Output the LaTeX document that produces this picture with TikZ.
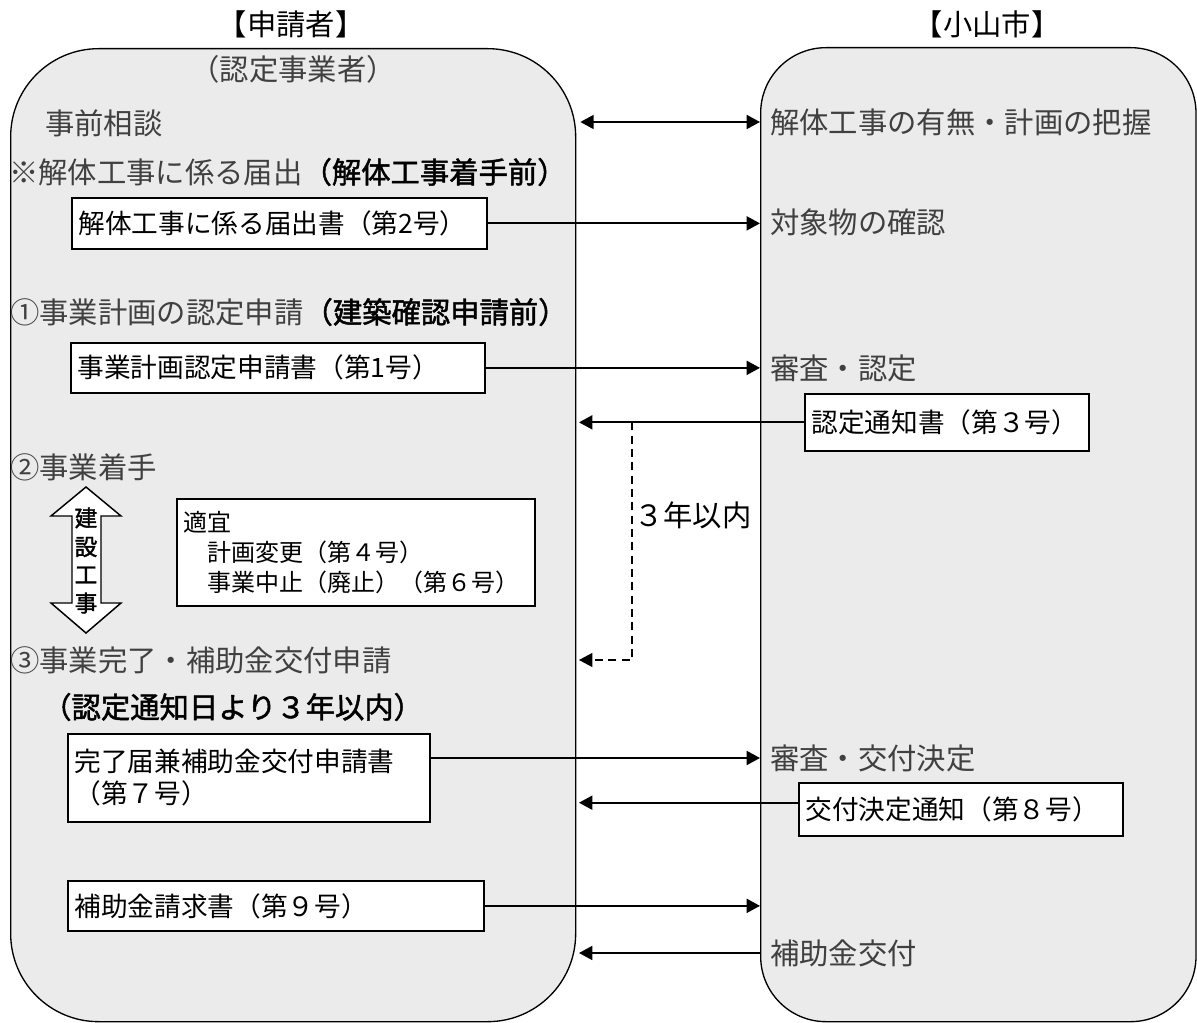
\documentclass[tikz,border=0pt]{standalone}
\usepackage{fontspec}
\setmainfont{Noto Sans CJK JP}
\newfontfamily\bfjp[FakeBold=1.6]{Noto Sans CJK JP}
\usetikzlibrary{arrows.meta}
\definecolor{panelfill}{RGB}{235,235,235}
\definecolor{txtgray}{RGB}{64,64,64}
\newcommand\fmain{\fontsize{22pt}{26pt}\selectfont}
\newcommand\fdoc{\fontsize{20pt}{24pt}\selectfont}
\newcommand\fsmall{\fontsize{18pt}{22.5pt}\selectfont}
\newcommand\fvert{\fontsize{17pt}{20pt}\selectfont}
\begin{document}
\begin{tikzpicture}[x=0.75pt,y=-0.75pt,
  panel/.style={draw=black, line width=1pt, fill=panelfill, rounded corners=#1, anchor=north west, inner sep=0pt},
  title/.style={inner sep=0pt, font=\fmain, text=black},
  lt/.style={anchor=west, inner sep=0pt, font=\fmain, text=txtgray},
  doc/.style={draw=black, fill=white, line width=1.3pt, anchor=north west, inner xsep=5pt, inner ysep=0pt, align=left, font=\fdoc, text=black},
  arr/.style={line width=1.3pt, -{Triangle[length=10pt,width=10.5pt]}},
  arrtwo/.style={line width=1.3pt, {Triangle[length=10pt,width=10.5pt]}-{Triangle[length=10pt,width=10.5pt]}},
  dsh/.style={line width=0.9pt, dash pattern=on 6pt off 4pt, -{Triangle[length=10pt,width=10.5pt]}},
  vch/.style={inner sep=0pt, font=\fvert\bfjp, text=black}
]
\useasboundingbox (0,0) rectangle (1197,1023);

% panels
\node[panel=66pt, minimum width=423.75pt, minimum height=729.75pt] (lp) at (10,48) {};
\node[panel=49pt, minimum width=326.5pt, minimum height=730.5pt] (rp) at (760,47) {};

% titles
\node[title] (t1) at (291,24) {【申請者】};
\node[title] (t2) at (987,24) {【小山市】};

% left column
\node[lt, anchor=center] (nintei) at (293,69) {（認定事業者）};
\node[lt] (soudan) at (45,123) {事前相談};
\node[lt] (kaitai) at (9,172) {※解体工事に係る届出{\bfjp\color{black}（解体工事着手前）}};
\node[doc, minimum width=311.25pt, minimum height=38.25pt, text width=301.25pt] (box2) at (71,197) {解体工事に係る届出書（第2号）};
\node[lt] (step1) at (10,312) {①事業計画の認定申請{\bfjp\color{black}（建築確認申請前）}};
\node[doc, minimum width=310.5pt, minimum height=37.5pt, text width=300.5pt] (box1) at (70,342) {事業計画認定申請書（第1号）};
\node[lt] (step2) at (10,467) {②事業着手};

% construction double arrow
\draw[line width=1.1pt, fill=white] (86,487) -- (121,516) -- (101,516) -- (101,603) -- (121,603) -- (86,633) -- (51,603) -- (72,603) -- (72,516) -- (51,516) -- cycle;
\node[vch] (k1) at (86,518) {建};
\node[vch] (k2) at (86,547) {設};
\node[vch] (k3) at (86,575) {工};
\node[vch] (k4) at (86,603) {事};

\node[doc, font=\fsmall, minimum width=268.5pt, minimum height=80.25pt, text width=258.5pt] (box46) at (176,498) {適宜\\　計画変更（第４号）\\　事業中止（廃止）（第６号）};
\node[lt] (step3) at (10,660) {③事業完了・補助金交付申請};
\node[anchor=west, inner sep=0pt, font=\fmain\bfjp, text=black] (limit) at (42,707) {（認定通知日より３年以内）};
\node[doc, minimum width=271.5pt, minimum height=66pt, text width=261.5pt] (box7) at (67,733) {完了届兼補助金交付申請書\\（第７号）};
\node[doc, minimum width=312pt, minimum height=37.5pt, text width=302pt] (box9) at (67,880) {補助金請求書（第９号）};

% right column
\node[lt] (haaku) at (770,122) {解体工事の有無・計画の把握};
\node[lt] (kakunin) at (770,222) {対象物の確認};
\node[lt] (shinsa1) at (770,368) {審査・認定};
\node[doc, minimum width=213pt, minimum height=42.75pt, text width=203pt] (box3) at (804,393) {認定通知書（第３号）};
\node[lt] (shinsa2) at (770,758) {審査・交付決定};
\node[doc, minimum width=243pt, minimum height=39.75pt, text width=233pt] (box8) at (798,782) {交付決定通知（第８号）};
\node[lt] (koufu) at (770,953) {補助金交付};

% middle
\node[anchor=west, inner sep=0pt, font=\fmain, text=black] (sannen) at (634,515) {３年以内};

% connectors
\draw[arrtwo, shorten <=3pt] (haaku.west -| lp.east) -- (haaku.west -| rp.west);
\draw[arr] (box2.east) -- (box2.east -| rp.west);
\draw[arr] (box1.east) -- (box1.east -| rp.west);
\draw[arr, shorten >=2pt] (box3.west) -- (box3.west -| lp.east);
\coordinate (d1) at (box3.west -| 632,0);
\draw[dsh, shorten >=2pt] (d1) |- (step3.west -| lp.east);
\draw[arr] (box7.east |- shinsa2.west) -- (shinsa2.west -| rp.west);
\draw[arr, shorten >=2pt] ([yshift=5pt]box8.west) -- ([yshift=5pt]box8.west -| lp.east);
\draw[arr] (box9.east) -- (box9.east -| rp.west);
\draw[arr, shorten >=2pt] (koufu.west -| rp.west) -- (koufu.west -| lp.east);
\end{tikzpicture}
\end{document}
